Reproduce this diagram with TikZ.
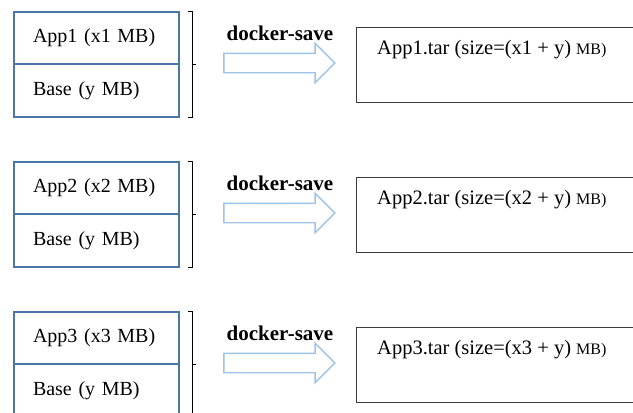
\documentclass[tikz,border=0pt]{standalone}
\usepackage{fontspec}
\setmainfont{Liberation Serif}
\usetikzlibrary{shapes.arrows,positioning}
\definecolor{layerblue}{RGB}{74,118,168}
\definecolor{arrowblue}{RGB}{157,195,230}
\definecolor{tarframe}{RGB}{60,60,60}
\tikzset{
  layer/.style={draw=layerblue,line width=1.8pt,outer sep=0pt,minimum width=165pt,minimum height=52.5pt,
    text width=127pt,inner xsep=19pt,align=left,font=\fontsize{20}{22}\selectfont},
  savearrow/.style={single arrow,draw=arrowblue,line width=1.4pt,fill=white,inner ysep=9pt,inner xsep=0pt,
    single arrow head extend=10pt,minimum height=111pt},
  savelabel/.style={font=\fontsize{21}{23}\selectfont\bfseries,inner sep=0pt},
  tarbox/.style={draw=tarframe,line width=1.4pt,minimum width=330pt,minimum height=75pt},
  tartext/.style={font=\fontsize{20.5}{22}\selectfont,inner sep=0pt}
}
\begin{document}
\begin{tikzpicture}[x=1pt,y=-1pt]
        \useasboundingbox (0,0) rectangle (633,413);
        \clip (0,0) rectangle (633,413);
        \foreach \i/\y in {1/0,2/150,3/300}{
          %% image layers
          \node[layer] (app\i) at (96.5,38+\y) {App\i\ (x\i\ MB)};
          \node[layer,below=0pt of app\i] (base\i) {Base (y MB)};
          %% bracket
          \draw[line width=0.9pt] ([xshift=9pt]app\i.north east) -- ++(4,0) -- ([xshift=13pt,yshift=-1pt]base\i.south east) -- ++(-4,0);
          \draw[line width=0.9pt] ([xshift=13pt]base\i.north east) -- ++(4,0);
          %% save arrow
          \node[savearrow] (save\i) at (274.5,63+\y) {};
          \node[savelabel] (savetxt\i) at ([xshift=5.5pt,yshift=30pt]save\i.center) {docker-save};
          %% tar file
          \node[tarbox,anchor=north west] (tar\i) at (356,27+\y) {};
          \node[tartext,anchor=west] (tartxt\i) at ([xshift=21pt,yshift=-23pt]tar\i.north west) {App\i.tar (size=(x\i\ + y) {\fontsize{16}{18}\selectfont MB)}};
        }
\end{tikzpicture}
\end{document}
